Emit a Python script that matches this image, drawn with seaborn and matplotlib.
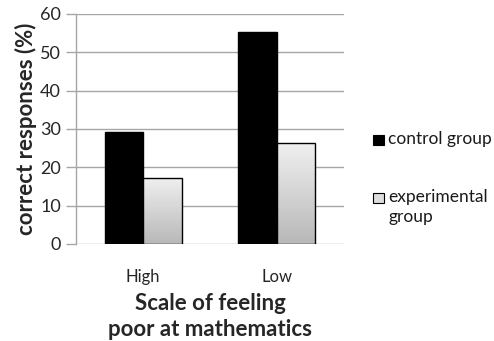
import numpy as np
import pandas as pd
import matplotlib
matplotlib.use("Agg")
import matplotlib.pyplot as plt
from matplotlib.patches import Rectangle
import seaborn as sns

categories = ["High", "Low"]
groups = ["control group", "experimental\ngroup"]
control = [29.3, 55.3]
experimental = [17.3, 26.4]

df = pd.DataFrame({
    "scale": categories * 2,
    "group": [groups[0]] * 2 + [groups[1]] * 2,
    "value": control + experimental,
})

sns.set_theme(style="white")
plt.rcParams["font.family"] = ["Lato", "DejaVu Sans"]

W, H = 494, 341
fig = plt.figure(figsize=(W / 100, H / 100), dpi=100)
ax = fig.add_axes([0.154, 0.2845, 0.542, 0.6745])

sns.barplot(data=df, x="scale", y="value", hue="group", order=categories,
            hue_order=groups, palette=["black", "#dddddd"], width=0.575,
            edgecolor="black", linewidth=1.0, legend=False, ax=ax, zorder=3)

# vertical gradient fill for the experimental bars: light at top, darker at base
grad = np.linspace(0, 1, 256).reshape(-1, 1)
cmap = matplotlib.colors.LinearSegmentedColormap.from_list("g", ["#b8b8b8", "#f0f0f0"])
for patch in ax.patches[len(categories):]:
    x0, y0 = patch.get_x(), patch.get_y()
    w, h = patch.get_width(), patch.get_height()
    im = ax.imshow(grad, cmap=cmap, aspect="auto", extent=[x0, x0 + w, y0, y0 + h],
                   origin="lower", zorder=3.5)
    im.set_clip_path(patch)
    patch.set_zorder(4)
    patch.set_facecolor("none")

ax.set_xlim(-0.5, 1.5)
ax.set_ylim(0, 60)
ax.set_yticks(range(0, 61, 10))
ax.yaxis.grid(True, color="#a6a6a6", linewidth=1.0, zorder=0)
ax.set_axisbelow(True)
for s in ["top", "right", "bottom"]:
    ax.spines[s].set_visible(False)
ax.spines["left"].set_color("#a6a6a6")
ax.spines["left"].set_linewidth(1.0)
ax.tick_params(axis="y", left=True, length=7, width=1.0, color="#a6a6a6",
               labelsize=13, pad=4)
ax.tick_params(axis="x", bottom=False, labelsize=12, pad=12)

ax.set_ylabel("correct responses (%)", fontsize=16, fontweight="bold", labelpad=2)
ax.set_xlabel("Scale of feeling\npoor at mathematics", fontsize=16,
              fontweight="bold", labelpad=6, linespacing=1.3)

# legend: small squares with labels to the right of the plot
legend_rows = [
    (groups[0], "black", 140),
    (groups[1], "#dddddd", 198),
]
for label, color, yc in legend_rows:
    fig.patches.append(Rectangle((373 / W, 1 - (yc + 5) / H), 11 / W, 10 / H,
                                 transform=fig.transFigure, facecolor=color,
                                 edgecolor="black", linewidth=0.8))
    fig.text(388 / W, 1 - (yc - 9) / H, label, fontsize=12.5, va="top",
             ha="left", linespacing=1.3, color="#1a1a1a")

fig.savefig("out.png", dpi=100)
